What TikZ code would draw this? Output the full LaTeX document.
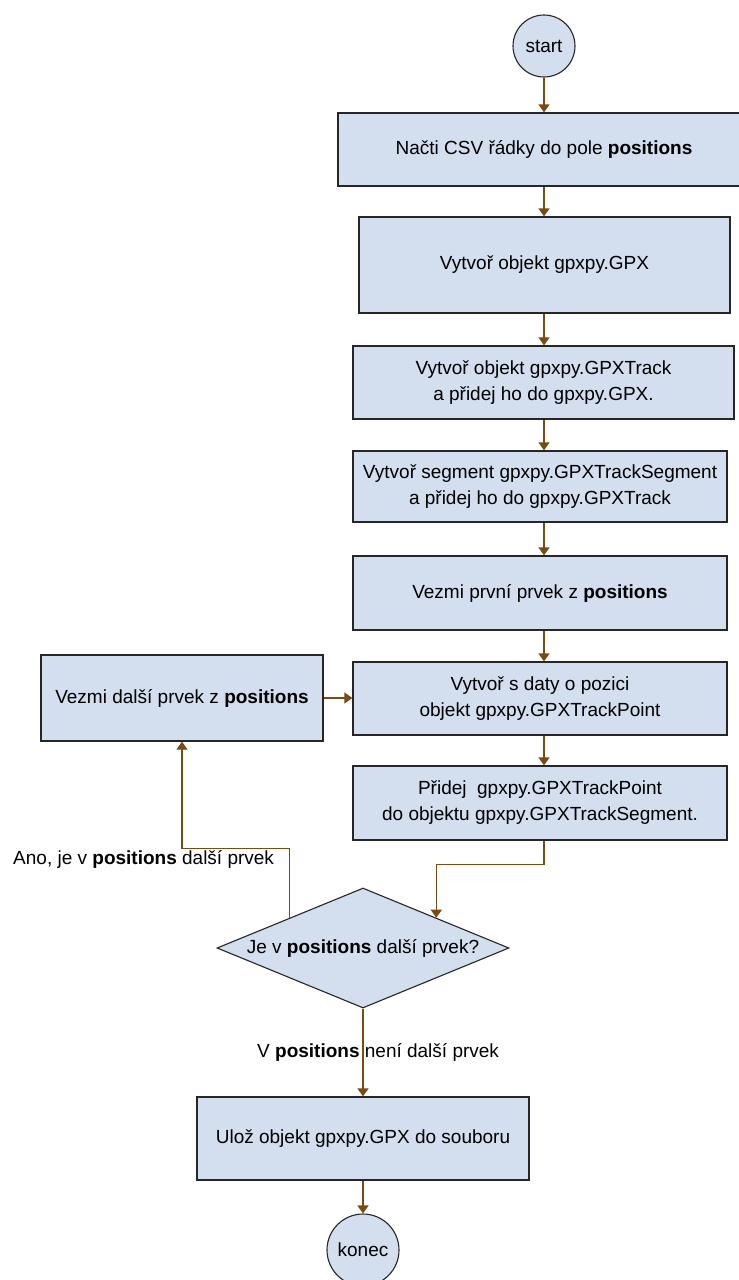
\documentclass[tikz,border=0pt]{standalone}
\usepackage{fontspec}
\setmainfont{Liberation Sans}
\usetikzlibrary{arrows.meta,shapes.geometric}
\definecolor{boxfill}{RGB}{211,222,238}
\definecolor{boxline}{RGB}{38,38,38}
\definecolor{arrcol}{RGB}{122,74,18}
\tikzset{
  stepbox/.style={draw=boxline,fill=boxfill,line width=1.3pt,rectangle,inner sep=0pt,align=center},
  termnode/.style={draw=boxline,fill=boxfill,line width=1.1pt,circle,inner sep=0pt},
  decnode/.style={draw=boxline,fill=boxfill,line width=1.1pt,diamond,aspect=2.43,inner sep=0pt,minimum width=292pt,minimum height=120pt},
  arr/.style={draw=arrcol,line width=1.3pt,-{Triangle[width=11pt,length=8pt]}},
  lbl/.style={inner sep=0pt}
}
\begin{document}
\begin{tikzpicture}[x=1pt,y=-1pt,font=\fontsize{19}{26}\selectfont]
\useasboundingbox (0,0) rectangle (739,1280);
\clip (0,0) rectangle (739,1280);
\node[termnode,minimum size=62pt] (st) at (544,46) {start};
\node[stepbox,minimum width=412pt,minimum height=73pt] (b1) at (544,149.5) {Načti CSV řádky do pole \textbf{positions}};
\node[stepbox,minimum width=371pt,minimum height=96pt] (b2) at (544.5,265) {Vytvoř objekt gpxpy.GPX};
\node[stepbox,minimum width=381pt,minimum height=73pt] (b3) at (543.5,382.5) {Vytvoř objekt gpxpy.GPXTrack\\a přidej ho do gpxpy.GPX.};
\node[stepbox,minimum width=374pt,minimum height=71pt] (b4) at (540,486.5) {Vytvoř segment gpxpy.GPXTrackSegment\\a přidej ho do gpxpy.GPXTrack};
\node[stepbox,minimum width=374pt,minimum height=74pt] (b5) at (540,593) {Vezmi první prvek z \textbf{positions}};
\node[stepbox,minimum width=374pt,minimum height=73pt] (b6) at (540,698.5) {Vytvoř s daty o pozici\\objekt gpxpy.GPXTrackPoint};
\node[stepbox,minimum width=374pt,minimum height=74pt] (b7) at (540,803) {Přidej \ gpxpy.GPXTrackPoint\\do objektu gpxpy.GPXTrackSegment.};
\node[stepbox,minimum width=282pt,minimum height=86pt] (bl) at (182,698) {Vezmi další prvek z \textbf{positions}};
\node[decnode] (d) at (363,948) {Je v \textbf{positions} další prvek?};
\node[stepbox,minimum width=332pt,minimum height=83pt] (b8) at (363,1138.5) {Ulož objekt gpxpy.GPX do souboru};
\node[termnode,minimum size=72pt] (ko) at (363,1250) {konec};

\draw[arr] (st.south) -- (b1.north -| st);
\draw[arr] (b1.south -| st) -- (b2.north -| st);
\draw[arr] (b2.south -| st) -- (b3.north -| st);
\draw[arr] (b3.south -| st) -- (b4.north -| st);
\draw[arr] (b4.south -| st) -- (b5.north -| st);
\draw[arr] (b5.south -| st) -- (b6.north -| st);
\draw[arr] (b6.south -| st) -- (b7.north -| st);
\draw[arr] (b7.south -| st) -- ++(0,24) -| (d.north east);
\draw[arr] (d.north west) -- ++(0,-69) -| (bl.south);
\draw[arr] (bl.east) -- (bl.east -| b6.west);
\draw[arr] (d.south) -- (b8.north);
\draw[arr] (b8.south) -- (ko.north);

\node[lbl,anchor=west] (la) at (13,859) {Ano, je v \textbf{positions} další prvek};
\node[lbl,anchor=west] (ln) at (257,1052) {V \textbf{positions} není další prvek};
\end{tikzpicture}
\end{document}
